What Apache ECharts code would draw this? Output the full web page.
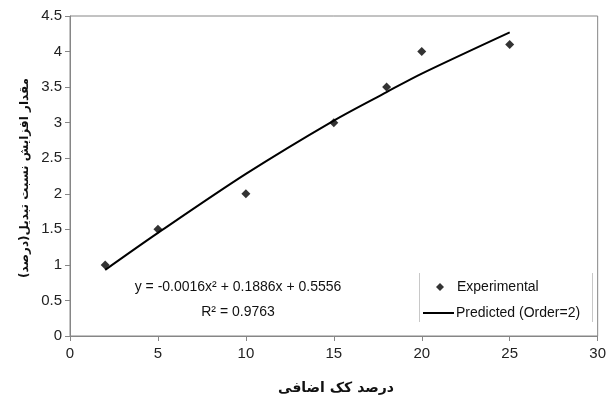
<!DOCTYPE html>
<html>
<head>
<meta charset="utf-8">
<script src="https://cdn.jsdelivr.net/npm/echarts@6/dist/echarts.min.js"></script>
<style>
  html, body { margin: 0; padding: 0; background: #fff; }
  #chart { width: 609px; height: 406px; }
</style>
</head>
<body>
<div id="chart"></div>
<script>
// Additive coke percentage (x) and measured conversion increase (y)
const cokePercent = [2, 5, 10, 15, 18, 20, 25];
const experimental = [1.0, 1.5, 2.0, 3.0, 3.5, 4.0, 4.1];
// Second-order fit evaluated at the same coke percentages
const predicted = [0.93, 1.45, 2.28, 3.03, 3.43, 3.69, 4.27];

const xTicks = [0, 5, 10, 15, 20, 25, 30];
const yTicks = [0, 0.5, 1, 1.5, 2, 2.5, 3, 3.5, 4, 4.5];

const fitEquation = 'y = -0.0016x\u00B2 + 0.1886x + 0.5556';
const fitR2 = 'R\u00B2 = 0.9763';

const xTitle = 'درصد کک اضافی';
const yTitle = 'مقدار افزایش نسبت تبدیل(درصد)';

const font = 'Liberation Sans, Arial, sans-serif';
const titleFont = 'DejaVu Sans, Noto Sans, sans-serif';
const axisGray = '#868686';

const chart = echarts.init(document.getElementById('chart'), null, { renderer: 'canvas' });

const legendText = { color: '#111', fontFamily: font, fontSize: 14 };

chart.setOption({
  animation: false,
  backgroundColor: '#ffffff',
  grid: {
    left: 70, right: 6, top: 16, bottom: 70,
    show: true, borderColor: axisGray, borderWidth: 1, backgroundColor: '#ffffff'
  },
  xAxis: {
    type: 'value',
    min: xTicks[0], max: xTicks[xTicks.length - 1], interval: 5,
    axisLine: { show: true, onZero: false, lineStyle: { color: axisGray, width: 1 } },
    axisTick: { show: true, inside: false, length: 5, lineStyle: { color: axisGray } },
    splitLine: { show: false },
    axisLabel: { color: '#222', fontFamily: font, fontSize: 15, margin: 10 }
  },
  yAxis: {
    type: 'value',
    min: yTicks[0], max: yTicks[yTicks.length - 1], interval: 0.5,
    axisLine: { show: true, onZero: false, lineStyle: { color: axisGray, width: 1 } },
    axisTick: { show: true, inside: false, length: 5, lineStyle: { color: axisGray } },
    splitLine: { show: false },
    axisLabel: { color: '#222', fontFamily: font, fontSize: 15, margin: 8 }
  },
  legend: [
    {
      // marker entry
      left: 436, top: 280, padding: 0,
      itemWidth: 8, itemHeight: 8,
      textStyle: Object.assign({ padding: [0, 0, 0, 8] }, legendText),
      data: [{ name: 'Experimental', icon: 'diamond' }]
    },
    {
      // fitted curve entry
      left: 423, top: 306, padding: 0,
      itemWidth: 31, itemHeight: 2,
      textStyle: Object.assign({ padding: [0, 0, 0, -3] }, legendText),
      data: [{ name: 'Predicted (Order=2)', icon: 'rect' }]
    }
  ],
  graphic: [
    { type: 'line', shape: { x1: 419.5, y1: 273, x2: 419.5, y2: 322 }, style: { stroke: '#c8c8c8', lineWidth: 1 } },
    { type: 'line', shape: { x1: 592.5, y1: 273, x2: 592.5, y2: 322 }, style: { stroke: '#c8c8c8', lineWidth: 1 } },
    { type: 'text', x: 238, y: 287, style: { text: fitEquation, fill: '#111', font: '14px ' + font, textAlign: 'center', textVerticalAlign: 'middle' } },
    { type: 'text', x: 238, y: 312, style: { text: fitR2, fill: '#111', font: '14px ' + font, textAlign: 'center', textVerticalAlign: 'middle' } },
    { type: 'text', x: 336, y: 388, style: { text: xTitle, fill: '#111', font: 'bold 14px ' + titleFont, textAlign: 'center', textVerticalAlign: 'middle' } },
    { type: 'text', x: 25, y: 178, rotation: Math.PI / 2, style: { text: yTitle, fill: '#111', font: 'bold 12px ' + titleFont, textAlign: 'center', textVerticalAlign: 'middle' } }
  ],
  series: [
    {
      name: 'Predicted (Order=2)',
      type: 'line',
      data: cokePercent.map((x, i) => [x, predicted[i]]),
      smooth: 0.3,
      symbol: 'none',
      lineStyle: { color: '#000', width: 2 },
      itemStyle: { color: '#000' },
      z: 2
    },
    {
      name: 'Experimental',
      type: 'scatter',
      data: cokePercent.map((x, i) => [x, experimental[i]]),
      symbol: 'diamond',
      symbolSize: 9,
      itemStyle: { color: '#000' },
      z: 3
    }
  ]
});
</script>
</body>
</html>
